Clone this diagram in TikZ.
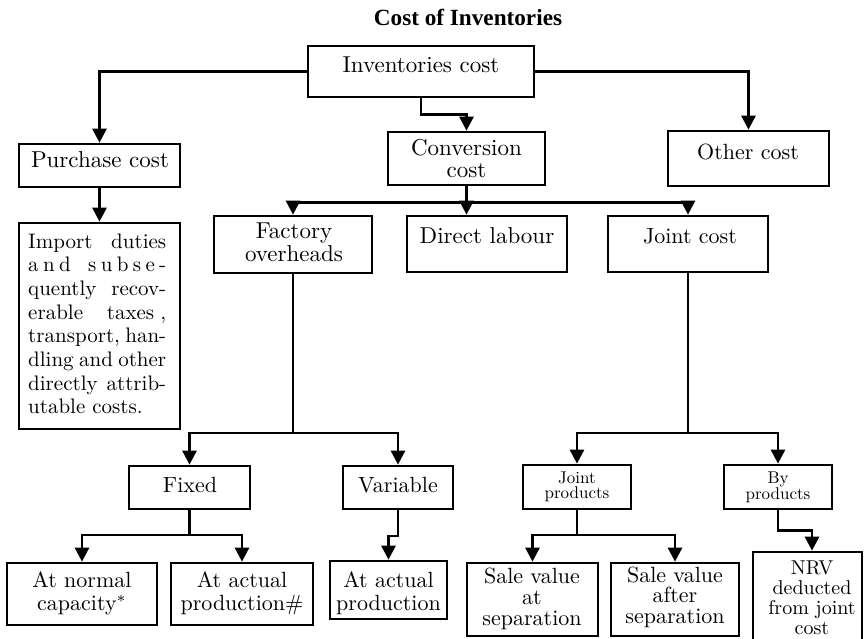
\documentclass[tikz,border=0pt]{standalone}
\usepackage{fontspec}
\newfontfamily\headfont{Liberation Serif}
\usetikzlibrary{arrows.meta,calc}
% centred block of lines set at 10pt and enlarged, aligned on the baseline of its first line
\newcommand\boxlines[4][60pt]{\scalebox{#2}{\parbox[t]{#1}{\centering\fontsize{10}{#3}\selectfont #4}}}
\begin{document}
\begin{tikzpicture}[x=1pt,y=-1pt,
  box/.style={draw, line width=2.7pt, inner sep=0pt, rectangle},
  conn/.style={line width=2.7pt},
  arr/.style={conn, -{Triangle[width=14pt,length=14pt]}},
  trunk/.style={line width=2pt},
  txt/.style={anchor=base, inner sep=0pt},
]
\useasboundingbox (0,0) rectangle (865,638);

% heading
\node[txt] (title) at (468,25) {\headfont\bfseries\fontsize{23.2}{24}\selectfont Cost of Inventories};

% boxes
\node[box, minimum width=226pt, minimum height=51pt] (inv)  at (421,71.5) {};
\node[box, minimum width=161pt, minimum height=43pt] (pur)  at (99.5,165.5) {};
\node[box, minimum width=157pt, minimum height=53pt] (conv) at (466.5,158.5) {};
\node[box, minimum width=161pt, minimum height=55pt] (oth)  at (748.5,158.5) {};
\node[box, minimum width=161pt, minimum height=206pt] (imp) at (99.5,326) {};
\node[box, minimum width=158pt, minimum height=57pt] (fo)   at (293,244.5) {};
\node[box, minimum width=160pt, minimum height=56pt] (dl)   at (487,244) {};
\node[box, minimum width=160pt, minimum height=56pt] (jc)   at (688,244) {};
\node[box, minimum width=121pt, minimum height=43pt] (fix)  at (189.5,487.5) {};
\node[box, minimum width=110pt, minimum height=43pt] (var)  at (398,487.5) {};
\node[box, minimum width=150pt, minimum height=62pt] (an)   at (82,594) {};
\node[box, minimum width=142pt, minimum height=62pt] (ap)   at (242,594) {};
\node[box, minimum width=117pt, minimum height=58pt] (aa)   at (388.5,590) {};
\node[box, minimum width=108pt, minimum height=44pt] (jp)   at (577,487) {};
\node[box, minimum width=108pt, minimum height=44pt] (bp)   at (778,487) {};
\node[box, minimum width=131pt, minimum height=73pt] (sa)   at (532.5,599.5) {};
\node[box, minimum width=128pt, minimum height=73pt] (sf)   at (675,599.5) {};
\node[box, minimum width=109pt, minimum height=128pt] (nrv) at (807.5,616) {};

% box texts
\node[txt] (inv-t)  at (421,72)    {\boxlines[75pt]{2.3}{10.4}{Inventories cost}};
\node[txt] (pur-t)  at (100,167)   {\boxlines[66pt]{2.3}{10.4}{Purchase cost}};
\node[txt] (conv-t) at (466.5,155) {\boxlines{2.3}{9.57}{Conversion\\cost}};
\node[txt] (oth-t)  at (748,159)   {\boxlines{2.2}{10.9}{Other cost}};
\node[txt] (fo-t)   at (294,238)   {\boxlines{2.3}{10.4}{Factory\\overheads}};
\node[txt] (dl-t)   at (487,243)   {\boxlines[65pt]{2.3}{10.4}{Direct labour}};
\node[txt] (jc-t)   at (690,243)   {\boxlines{2.2}{10.9}{Joint cost}};
\node[txt] (fix-t)  at (190,492)   {\boxlines[50pt]{2.2}{10.9}{Fixed}};
\node[txt] (var-t)  at (398,492)   {\boxlines[45pt]{2.2}{10.9}{Variable}};
\node[txt] (an-t)   at (82,587)    {\boxlines{2.2}{10.45}{At normal\\capacity$^{*}$}};
\node[txt] (ap-t)   at (242,587)   {\boxlines{2.2}{10.45}{At actual\\production\#}};
\node[txt] (aa-t)   at (388.5,587) {\boxlines[50pt]{2.2}{10.45}{At actual\\production}};
\node[txt] (jp-t)   at (577,483)   {\boxlines{1.7}{8.82}{Joint\\products}};
\node[txt] (bp-t)   at (778,483)   {\boxlines{1.7}{8.82}{By\\products}};
\node[txt] (sa-t)   at (532,583)   {\boxlines[55pt]{2.2}{9.77}{Sale value\\at\\separation}};
\node[txt] (sf-t)   at (675,582)   {\boxlines[55pt]{2.2}{9.32}{Sale value\\after\\separation}};
\node[txt] (nrv-t)  at (812,574)   {\boxlines[50pt]{2.0}{10}{NRV\\deducted\\from joint\\cost}};
\node[txt, anchor=base west] (imp-t) at (28,248) {\scalebox{2.1}{\parbox[t]{65.71pt}{\fontsize{10}{11.29}\selectfont
  \hbox to\linewidth{Import\hfill duties}
  \hbox to\linewidth{a\hfil n\hfil d\hskip 0pt plus 4fil s\hfil u\hfil b\hfil s\hfil e\hfil -}
  \hbox to\linewidth{quently\hfill recov-}
  \hbox to\linewidth{erable\hfill taxes\hskip 2.9pt plus 1fil,}
  \hbox to\linewidth{transport,\hfill han-}
  \hbox to\linewidth{dling\hfil and\hfil other}
  \hbox to\linewidth{directly\hfill attrib-}
  \hbox{utable costs.}}}};

% connectors
\draw[arr] (inv.west) -| (pur.north);
\draw[arr] (inv.east) -| (oth.north);
\draw[arr] (inv.south) -- ++(0,16) -| (conv.north);
\draw[arr] (pur.south) -- (imp.north);

\coordinate (convsplit) at ($(conv.south)+(0,16)$);
\draw[conn] (conv.south) -- (convsplit);
\draw[arr] (convsplit) -| (fo.north);
\draw[arr] (convsplit) -| (jc.north);
\draw[arr] (convsplit) -- (convsplit |- dl.north);

\coordinate (fosplit) at (fo.south |- 0,433);
\draw[trunk] (fo.south) -- (fosplit);
\draw[arr] (fosplit) -| (fix.north);
\draw[arr] (fosplit) -| (var.north);

\coordinate (fixsplit) at (fix.south |- 0,535);
\draw[conn] (fix.south) -- (fixsplit);
\draw[arr] (fixsplit) -| (an.north);
\draw[arr] (fixsplit) -| (ap.north);

\draw[arr] (var.south) -- ++(0,25.5) -| (aa.north);

\coordinate (jcsplit) at (jc.south |- 0,433);
\draw[trunk] (jc.south) -- (jcsplit);
\draw[arr] (jcsplit) -| (jp.north);
\draw[arr] (jcsplit) -| (bp.north);

\coordinate (jpsplit) at (jp.south |- 0,535);
\draw[conn] (jp.south) -- (jpsplit);
\draw[arr] (jpsplit) -| (sa.north);
\draw[arr] (jpsplit) -| (sf.north);

\draw[arr] (bp.south) -- ++(0,20) -| ($(nrv.north)+(4.5,0)$);
\end{tikzpicture}
\end{document}
